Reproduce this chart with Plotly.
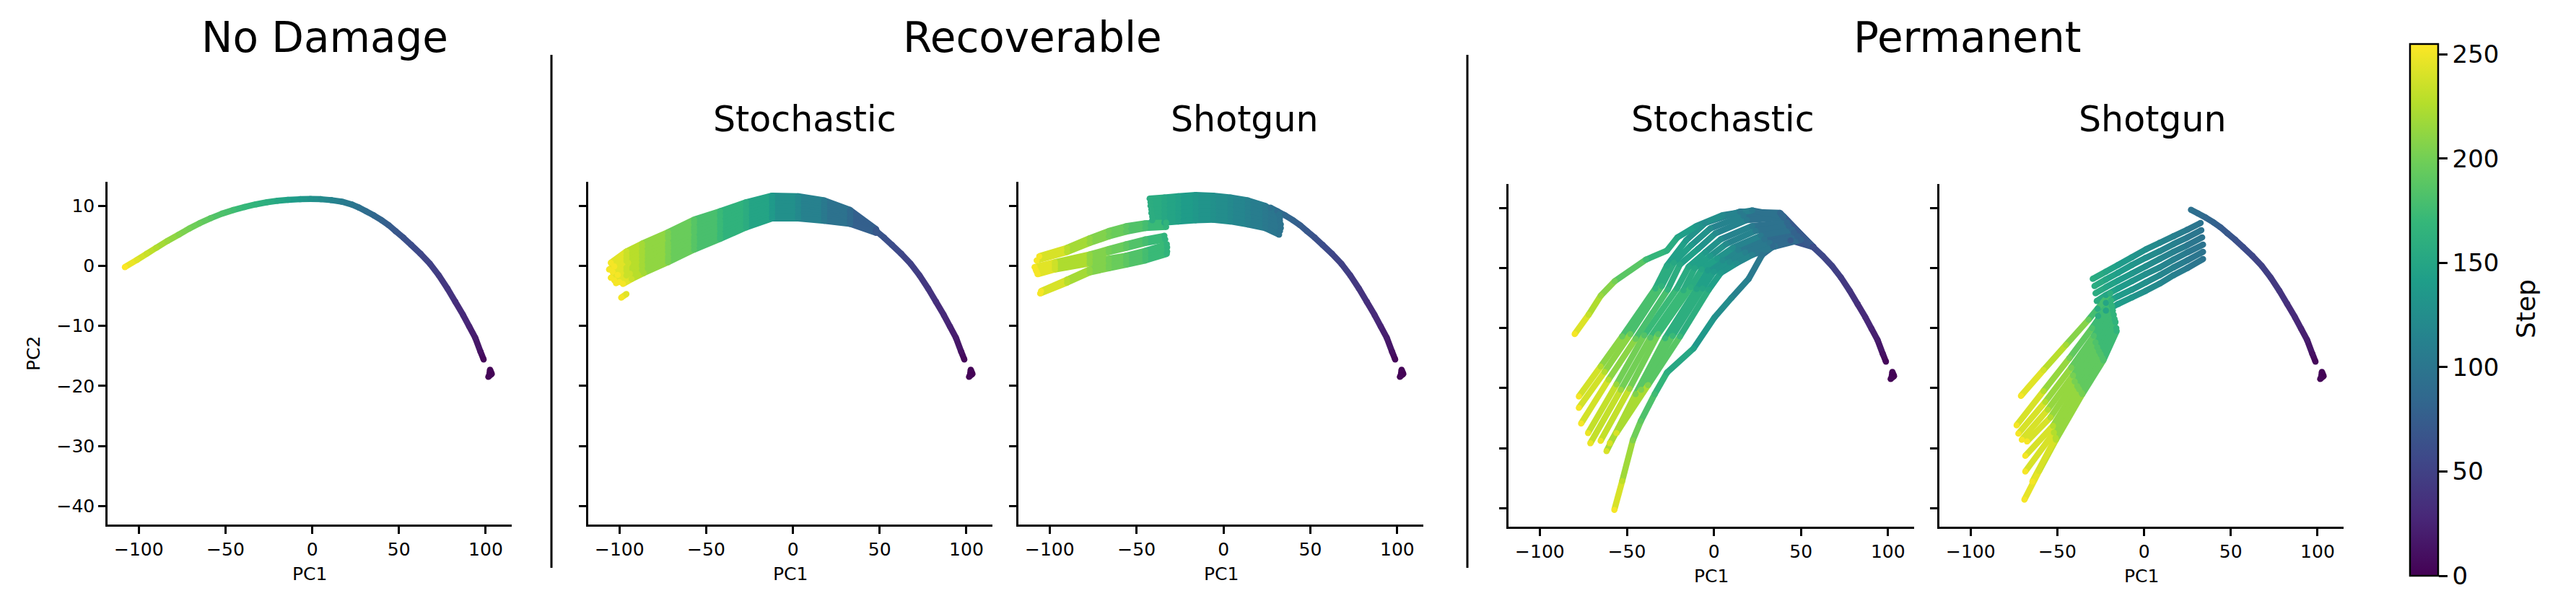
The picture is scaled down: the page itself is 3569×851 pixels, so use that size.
import plotly.graph_objects as go
from plotly.colors import sample_colorscale

W, H = 3569, 851

# ---------------- data ----------------
STEP_MAX = 255
CBAR_TICKS = [0, 50, 100, 150, 200, 250]
X_TICKS = [-100, -50, 0, 50, 100]
Y_TICKS = [-40, -30, -20, -10, 0, 10]
X_RANGE = [-118, 115]
Y_RANGE = [-43.1, 14]

GROUP_TITLES = ["No Damage", "Recoverable", "Permanent"]
SUB_TITLES = ["Stochastic", "Shotgun", "Stochastic", "Shotgun"]
X_LABEL = "PC1"
Y_LABEL = "PC2"
CBAR_LABEL = "Step"

# shared undamaged trajectory (start blob + main path)
START_STEP = [0, 1, 2, 3]
START_PC1 = [101.5, 103.5, 102.5, 102.0]
START_PC2 = [-18.5, -18.0, -17.3, -18.3]

BASE_STEP = [5, 12, 20, 25, 30, 35, 40, 45, 50, 55, 60, 65, 70, 75, 80, 85, 90, 95, 100, 107, 115, 122,
             130, 137, 145, 152, 160, 165, 170, 176, 182, 188, 195, 201, 207, 216, 225, 234, 243, 255]
BASE_PC1 = [98.8, 97.0, 94.0, 90.5, 87.0, 82.5, 78.0, 73.0, 68.0, 62.5, 57.0, 52.5, 48.0, 44.0, 40.0, 35.5,
            31.0, 27.0, 23.0, 17.0, 11.0, 5.0, -1.0, -7.0, -14.0, -20.0, -26.0, -32.5, -39.0, -45.5, -52.0,
            -58.5, -65.0, -71.0, -77.0, -83.5, -90.0, -95.5, -101.0, -108.0]
BASE_PC2 = [-15.6, -14.3, -12.0, -10.1, -8.2, -6.0, -3.8, -1.6, 0.3, 2.0, 3.5, 4.7, 5.8, 6.8, 7.6, 8.4,
            9.1, 9.7, 10.2, 10.7, 10.95, 11.1, 11.15, 11.1, 11.0, 10.85, 10.6, 10.25, 9.8, 9.3, 8.7,
            7.95, 7.1, 6.2, 5.2, 4.15, 3.0, 2.0, 1.0, -0.2]

# damage onset steps (shared path drawn up to here)
REC_STOCH_ONSET = 70
REC_SHOT_ONSET = 95
PERM_STOCH_ONSET = 60
PERM_SHOT_ONSET = 95

# Recoverable / Stochastic
REC_STOCH_STEP = [70, 87, 104, 120, 138, 158, 172, 187, 203, 220, 235, 252]
REC_STOCH_PC1 = [
    [48, 33, 18, 3, -12, -27, -42, -57, -72, -87, -96, -105],
    [48, 33, 18, 3, -12, -27, -42, -57, -72, -87, -96, -103],
    [48, 33, 18, 3, -12, -27, -42, -57, -72, -87, -96, -106],
    [48, 33, 18, 3, -12, -27, -42, -57, -72, -87, -96, -104],
    [48, 33, 18, 3, -12, -27, -42, -57, -72, -87, -95, -101],
    [48, 33, 18, 3, -12, -27, -42, -57, -72, -87, -96, -105],
    [48, 33, 18, 3, -12, -27, -42, -57, -72, -87, -96, -103],
    [48, 33, 18, 3, -12, -27, -42, -57, -72, -87, -94, -100],
    [48, 33, 18, 3, -12, -27, -42, -57, -72, -87, -96, -102],
    [48, 33, 18, 3, -12, -27, -42, -57, -72, -86, -93, -98],
]
REC_STOCH_PC2 = [
    [6.1, 9.3, 10.9, 11.6, 11.7, 10.6, 9.1, 7.7, 5.6, 3.7, 2.4, 0.5],
    [6.0, 9.0, 10.5, 11.3, 11.2, 10.2, 8.5, 7.2, 5.0, 3.2, 1.8, -0.1],
    [6.0, 8.8, 10.1, 10.9, 10.8, 9.6, 8.2, 6.5, 4.6, 2.5, 1.3, -0.6],
    [5.9, 8.5, 9.8, 10.3, 10.5, 9.3, 7.5, 6.1, 3.8, 2.1, 0.8, -1.0],
    [5.9, 8.3, 9.4, 10.0, 9.9, 8.8, 7.0, 5.6, 3.3, 1.5, 0.5, -1.5],
    [5.8, 8.0, 9.0, 9.4, 9.6, 8.2, 6.6, 4.8, 2.9, 0.9, -0.3, -2.0],
    [5.7, 7.8, 8.6, 9.2, 9.1, 7.7, 6.1, 4.3, 2.3, 0.3, -0.8, -2.4],
    [5.7, 7.5, 8.3, 8.6, 8.8, 7.2, 5.4, 3.9, 1.6, -0.1, -1.3, -2.7],
    [5.6, 7.2, 7.9, 8.3, 8.2, 6.9, 4.9, 3.3, 1.1, -0.7, -1.6, -2.9],
    [5.5, 7.0, 7.5, 7.9, 7.9, 6.4, 4.5, 2.7, 0.6, -1.2, -2.2, -3.0],
]
REC_STOCH_EXTRA_STEP = [244, 252]
REC_STOCH_EXTRA_PC1 = [-96.0, -99.0]
REC_STOCH_EXTRA_PC2 = [-4.7, -5.3]

# Recoverable / Shotgun (two jumps)
REC_SHOT_UP_STEP = [97, 104, 112, 120, 128, 136, 145, 152, 158]
REC_SHOT_UP_PC1 = [
    [32.0, 24, 14, 4, -6, -16, -26, -34, -42.5],
    [32.5, 24, 14, 4, -6, -16, -26, -34, -42.0],
    [32.5, 24, 14, 4, -6, -16, -26, -34, -42.0],
    [33.0, 24, 14, 4, -6, -16, -26, -34, -41.5],
    [33.0, 24, 14, 4, -6, -16, -26, -34, -41.5],
    [32.5, 24, 14, 4, -6, -16, -26, -34, -41.0],
    [32.0, 24, 14, 4, -6, -16, -26, -34, -41.0],
]
REC_SHOT_UP_PC2 = [
    [8.6, 10.0, 10.9, 11.4, 11.7, 11.8, 11.6, 11.4, 11.2],
    [8.0, 9.4, 10.2, 10.7, 11.0, 11.1, 10.9, 10.7, 10.6],
    [7.5, 8.8, 9.6, 10.1, 10.4, 10.4, 10.2, 10.0, 10.0],
    [6.9, 8.2, 8.9, 9.4, 9.7, 9.7, 9.5, 9.3, 9.4],
    [6.3, 7.5, 8.2, 8.7, 9.0, 9.0, 8.8, 8.6, 8.8],
    [5.8, 6.9, 7.6, 8.1, 8.4, 8.3, 8.1, 7.9, 8.2],
    [5.2, 6.3, 6.9, 7.4, 7.7, 7.6, 7.4, 7.2, 7.6],
]
REC_SHOT_LOW_STEP = [
    [165, 178, 190, 200, 212, 228, 252],
    [165, 178, 190, 200, 212, 228, 252],
    [165, 178, 190, 200, 212, 236, 252],
    [165, 178, 190, 200, 212, 236, 252],
    [165, 178, 190, 200, 212, 236, 252],
    [165, 178, 190, 200, 212, 236, 252],
    [165, 178, 190, 200, 212, 228, 252],
    [165, 178, 190, 200, 212, 228, 252],
]
REC_SHOT_LOW_PC1 = [
    [-33.0, -45, -56, -66, -77, -90, -106.0],
    [-33.0, -45, -56, -66, -77, -90, -107.5],
    [-34.0, -45, -56, -66, -77, -97, -108.7],
    [-33.5, -45, -56, -66, -77, -97, -108.0],
    [-32.4, -45, -56, -66, -77, -97, -107.0],
    [-32.6, -45, -56, -66, -77, -97, -107.5],
    [-32.4, -45, -56, -66, -77, -90, -105.0],
    [-32.6, -45, -56, -66, -77, -90, -105.5],
]
REC_SHOT_LOW_PC2 = [
    [7.2, 7.1, 6.6, 5.8, 4.6, 3.0, 1.6],
    [6.5, 6.3, 5.7, 4.9, 3.8, 2.3, 0.9],
    [5.0, 4.4, 3.6, 2.8, 1.9, 0.6, -0.2],
    [4.4, 3.8, 3.0, 2.3, 1.4, 0.2, -0.7],
    [3.1, 2.0, 1.2, 0.8, 0.4, -0.6, -1.4],
    [3.6, 2.5, 1.7, 1.2, 0.8, -0.2, -1.0],
    [2.4, 1.4, 0.7, 0.1, -0.6, -2.3, -4.2],
    [2.0, 0.9, 0.2, -0.4, -1.1, -2.8, -4.6],
]

# Permanent / Stochastic: main bundle
PERM_STOCH_STEP = [
    [60, 85, 105, 122, 138, 152, 165, 195, 225, 252],
    [60, 85, 105, 122, 138, 152, 165, 195, 225, 252],
    [60, 85, 105, 122, 138, 152, 165, 195, 225, 252],
    [60, 85, 105, 122, 138, 150, 160, 185, 215, 248],
    [60, 85, 105, 122, 138, 150, 160, 185, 215, 248],
    [60, 85, 105, 122, 138, 150, 160, 185, 215, 248],
    [60, 80, 98, 112, 125, 138, 150, 172, 205, 240],
    [60, 80, 98, 112, 125, 138, 150, 172, 205, 240],
    [60, 80, 98, 112, 125, 138, 150, 172, 205, 240],
]
PERM_STOCH_PC1 = [
    [57, 38, 15, -5, -16, -27.0, -33.6, -52.7, -65.1, -77.6],
    [57, 39, 17, -2, -13, -23.0, -30.0, -48.0, -62.8, -77.6],
    [57, 40, 19, 1, -9, -19.5, -26.5, -45.0, -60.5, -76.3],
    [57, 42, 22, 4, -5, -14.5, -21.2, -40.0, -56.0, -72.3],
    [57, 43, 24, 7, -2, -11.0, -17.5, -36.5, -53.5, -71.0],
    [57, 45, 27, 11, 2, -7.0, -13.2, -32.0, -48.5, -65.1],
    [57, 46, 29, 14, 5, -3.5, -10.0, -28.0, -45.0, -61.7],
    [57, 48, 32, 18, 9, 0.0, -6.5, -23.7, -41.8, -59.8],
    [57, 50, 35, 22, 13, 4.0, -3.0, -19.5, -37.8, -56.0],
]
PERM_STOCH_PC2 = [
    [3.5, 9.2, 9.4, 7.5, 4.6, 0.4, -3.4, -11.4, -16.4, -21.4],
    [3.5, 8.8, 8.7, 6.6, 3.8, 0.9, -3.0, -11.0, -17.3, -23.3],
    [3.5, 8.4, 8.0, 5.8, 3.2, 0.6, -3.6, -11.8, -18.6, -25.9],
    [3.5, 7.6, 7.0, 4.8, 2.6, 0.2, -3.4, -11.2, -19.4, -27.5],
    [3.5, 7.0, 6.2, 4.0, 2.0, 0.0, -3.7, -11.6, -20.3, -29.2],
    [3.5, 6.4, 5.4, 3.4, 1.6, -0.2, -3.2, -11.0, -20.1, -28.8],
    [3.5, 5.9, 4.8, 3.0, 1.3, -0.4, -3.5, -11.7, -21.0, -30.5],
    [3.5, 5.3, 4.2, 2.6, 1.0, -0.6, -3.4, -11.3, -20.3, -29.2],
    [3.5, 4.7, 3.6, 2.2, 0.8, -0.8, -3.6, -11.4, -19.5, -27.5],
]
PERM_STOCH_LEFT_STEP = [60, 85, 105, 120, 135, 150, 162, 175, 200, 215, 232, 252]
PERM_STOCH_LEFT_PC1 = [57, 40, 22, 5, -10, -21, -27, -39, -57, -65, -72, -80]
PERM_STOCH_LEFT_PC2 = [3.5, 8.6, 9.6, 8.8, 7.0, 5.1, 2.9, 1.4, -2.2, -4.6, -7.8, -11.0]
PERM_STOCH_RIGHT_STEP = [60, 75, 88, 98, 108, 118, 128, 145, 160, 175, 190, 205, 230, 252]
PERM_STOCH_RIGHT_PC1 = [57, 44, 34, 27.7, 20, 10, 0.4, -11.7, -26.9, -34, -42, -46.6, -52.7, -57.2]
PERM_STOCH_RIGHT_PC2 = [3.5, 4.6, 3.6, 2.2, -1.8, -5.0, -8.2, -13.4, -17.4, -21.0, -25.5, -28.7, -35.5, -40.3]

# Permanent / Shotgun (two jumps)
PERM_SHOT_UP_STEP = [97, 104, 111, 118, 126, 134, 142, 150, 157]
PERM_SHOT_UP_PC1 = [
    [32.6, 25, 17, 9, 1, -7, -15, -22, -29.6],
    [33.0, 25, 17, 9, 1, -7, -15, -22, -28.6],
    [33.5, 25, 17, 9, 1, -7, -15, -22, -28.0],
    [34.0, 25, 17, 9, 1, -7, -15, -22, -27.3],
    [34.0, 25, 17, 9, 1, -7, -15, -22, -26.8],
    [34.0, 25, 17, 9, 1, -7, -15, -22, -26.5],
]
PERM_SHOT_UP_PC2 = [
    [7.5, 6.4, 5.3, 4.2, 3.1, 1.8, 0.5, -0.6, -1.8],
    [6.3, 5.1, 4.0, 2.8, 1.7, 0.5, -0.8, -1.9, -3.0],
    [5.1, 3.8, 2.7, 1.5, 0.3, -0.9, -2.1, -3.2, -4.2],
    [3.9, 2.6, 1.4, 0.1, -1.0, -2.2, -3.4, -4.5, -5.5],
    [2.7, 1.3, 0.1, -1.2, -2.4, -3.6, -4.7, -5.8, -6.8],
    [1.5, 0.0, -1.2, -2.6, -3.8, -4.9, -6.0, -7.1, -8.0],
]
PERM_SHOT_LOW_STEP = [
    [160, 195, 220, 238, 252],
    [165, 183, 202, 226, 252],
    [165, 183, 202, 226, 252],
    [165, 183, 202, 226, 252],
    [165, 183, 202, 226, 252],
    [165, 183, 202, 226, 252],
    [165, 183, 202, 226, 252],
    [165, 183, 202, 226, 252],
    [165, 183, 202, 226, 240, 252],
]
PERM_SHOT_LOW_PC1 = [
    [-19.5, -32, -45, -58, -71.0],
    [-19.0, -30, -43, -58, -73.5],
    [-18.5, -29, -42, -57, -72.5],
    [-18.0, -28, -41, -55.5, -70.5],
    [-17.5, -27, -40, -54, -67.5],
    [-17.0, -26, -38.5, -52.5, -68.5],
    [-16.5, -25, -37.5, -52, -68.5],
    [-16.0, -24, -36, -51, -64.4],
    [-15.8, -23.5, -35.6, -50.8, -60.5, -69.0],
]
PERM_SHOT_LOW_PC2 = [
    [-4.2, -8.6, -12.8, -17.0, -21.3],
    [-5.4, -10.0, -15.0, -20.5, -26.2],
    [-6.3, -11.3, -16.6, -22.3, -27.6],
    [-7.1, -12.4, -17.9, -23.6, -28.6],
    [-7.8, -13.2, -18.9, -24.9, -28.9],
    [-8.5, -13.9, -19.7, -26.3, -31.3],
    [-9.0, -14.4, -20.2, -27.4, -33.9],
    [-10.0, -15.0, -20.8, -28.3, -35.6],
    [-10.5, -15.4, -21.0, -28.6, -33.8, -38.6],
]

# ---------------- layout geometry (pixels) ----------------
AX_X = {1: (149, 709), 2: (815, 1375), 3: (1411, 1972), 4: (2090, 2652), 5: (2687, 3247)}
AX_Y = {1: (252, 727), 2: (252, 727), 3: (252, 727), 4: (255, 730), 5: (255, 730)}
LINE_W = 8.5
FONT = "DejaVu Sans"


def px_x(p):
    return p / W


def px_y(p):
    return 1 - p / H


def base_until(cut):
    idx = [i for i, s in enumerate(BASE_STEP) if s <= cut]
    return ([BASE_STEP[i] for i in idx], [BASE_PC1[i] for i in idx], [BASE_PC2[i] for i in idx])


def vcolor(step):
    return sample_colorscale("Viridis", [min(max(step / STEP_MAX, 0.0), 1.0)])[0]


fig = go.Figure()


def draw_panel(k, polylines):
    xa = "x" if k == 1 else f"x{k}"
    ya = "y" if k == 1 else f"y{k}"
    bins = {}
    for steps, xs, ys in polylines:
        for i in range(len(steps) - 1):
            mid = 0.5 * (steps[i] + steps[i + 1])
            key = int(round(mid / 2.0))
            b = bins.setdefault(key, ([], []))
            b[0].extend([xs[i], xs[i + 1], None])
            b[1].extend([ys[i], ys[i + 1], None])
    for key in sorted(bins):
        bx, by = bins[key]
        fig.add_trace(go.Scatter(x=bx, y=by, mode="lines",
                                 line=dict(color=vcolor(key * 2.0), width=LINE_W),
                                 hoverinfo="skip", showlegend=False, xaxis=xa, yaxis=ya))
    mx, my, mc = [], [], []
    for steps, xs, ys in polylines:
        mx += list(xs)
        my += list(ys)
        mc += list(steps)
    fig.add_trace(go.Scatter(x=mx, y=my, mode="markers",
                             marker=dict(color=mc, colorscale="Viridis", cmin=0, cmax=STEP_MAX,
                                         size=LINE_W, line=dict(width=0)),
                             hoverinfo="skip", showlegend=False, xaxis=xa, yaxis=ya))


start = (START_STEP, START_PC1, START_PC2)

# Panel 1: no damage
draw_panel(1, [start, (BASE_STEP, BASE_PC1, BASE_PC2)])

# Panel 2: recoverable stochastic
p2 = [start, base_until(REC_STOCH_ONSET)]
for xs, ys in zip(REC_STOCH_PC1, REC_STOCH_PC2):
    p2.append((REC_STOCH_STEP, xs, ys))
p2.append((REC_STOCH_EXTRA_STEP, REC_STOCH_EXTRA_PC1, REC_STOCH_EXTRA_PC2))
draw_panel(2, p2)

# Panel 3: recoverable shotgun
p3 = [start, base_until(REC_SHOT_ONSET)]
for xs, ys in zip(REC_SHOT_UP_PC1, REC_SHOT_UP_PC2):
    p3.append((REC_SHOT_UP_STEP, xs, ys))
for st, xs, ys in zip(REC_SHOT_LOW_STEP, REC_SHOT_LOW_PC1, REC_SHOT_LOW_PC2):
    p3.append((st, xs, ys))
draw_panel(3, p3)

# Panel 4: permanent stochastic
p4 = [start, base_until(PERM_STOCH_ONSET)]
for st, xs, ys in zip(PERM_STOCH_STEP, PERM_STOCH_PC1, PERM_STOCH_PC2):
    p4.append((st, xs, ys))
p4.append((PERM_STOCH_LEFT_STEP, PERM_STOCH_LEFT_PC1, PERM_STOCH_LEFT_PC2))
p4.append((PERM_STOCH_RIGHT_STEP, PERM_STOCH_RIGHT_PC1, PERM_STOCH_RIGHT_PC2))
draw_panel(4, p4)

# Panel 5: permanent shotgun
p5 = [start, base_until(PERM_SHOT_ONSET)]
for xs, ys in zip(PERM_SHOT_UP_PC1, PERM_SHOT_UP_PC2):
    p5.append((PERM_SHOT_UP_STEP, xs, ys))
for st, xs, ys in zip(PERM_SHOT_LOW_STEP, PERM_SHOT_LOW_PC1, PERM_SHOT_LOW_PC2):
    p5.append((st, xs, ys))
draw_panel(5, p5)

# colorbar carrier (point lies outside the plotted range)
fig.add_trace(go.Scatter(
    x=[0], y=[1000], mode="markers", hoverinfo="skip", showlegend=False,
    marker=dict(color=[0], colorscale="Viridis", cmin=0, cmax=STEP_MAX, showscale=True,
                colorbar=dict(
                    x=px_x(3339), xanchor="left", xpad=0, ypad=0,
                    y=px_y(429.5), yanchor="middle",
                    len=737, lenmode="pixels", thickness=39, thicknessmode="pixels",
                    outlinecolor="black", outlinewidth=2.5,
                    tickvals=CBAR_TICKS, ticks="outside", ticklen=12, tickwidth=2.5,
                    tickcolor="black", tickfont=dict(family=FONT, size=34, color="black"),
                ))))

axis_common = dict(showgrid=False, zeroline=False, showline=True, linecolor="black", linewidth=2.5,
                   ticks="outside", ticklen=10, tickwidth=2.5, tickcolor="black", automargin=False,
                   tickfont=dict(family=FONT, size=25, color="black"), fixedrange=True)

layout = dict(width=W, height=H, margin=dict(l=0, r=0, t=0, b=0, pad=0, autoexpand=False),
              plot_bgcolor="white", paper_bgcolor="white", showlegend=False)
for k in range(1, 6):
    xn = "xaxis" if k == 1 else f"xaxis{k}"
    yn = "yaxis" if k == 1 else f"yaxis{k}"
    ya = "y" if k == 1 else f"y{k}"
    xa = "x" if k == 1 else f"x{k}"
    layout[xn] = dict(axis_common, domain=[px_x(AX_X[k][0]), px_x(AX_X[k][1])], range=X_RANGE,
                      tickvals=X_TICKS, anchor=ya)
    layout[yn] = dict(axis_common, domain=[px_y(AX_Y[k][1]), px_y(AX_Y[k][0])], range=Y_RANGE,
                      tickvals=Y_TICKS, anchor=xa, showticklabels=(k == 1))
fig.update_layout(**layout)

ann = []
for txt, cx in zip(GROUP_TITLES, [450, 1430, 2725]):
    ann.append(dict(text=txt, x=px_x(cx), y=px_y(52), xref="paper", yref="paper", showarrow=False,
                    xanchor="center", yanchor="middle", font=dict(family=FONT, size=58, color="black")))
for txt, cx in zip(SUB_TITLES, [1115, 1724, 2387, 2982]):
    ann.append(dict(text=txt, x=px_x(cx), y=px_y(165), xref="paper", yref="paper", showarrow=False,
                    xanchor="center", yanchor="middle", font=dict(family=FONT, size=49, color="black")))
for k in range(1, 6):
    cx = 0.5 * (AX_X[k][0] + AX_X[k][1])
    cy = AX_Y[k][1] + 68
    ann.append(dict(text=X_LABEL, x=px_x(cx), y=px_y(cy), xref="paper", yref="paper", showarrow=False,
                    xanchor="center", yanchor="middle", font=dict(family=FONT, size=25, color="black")))
ann.append(dict(text=Y_LABEL, x=px_x(46), y=px_y(490), xref="paper", yref="paper", showarrow=False,
                textangle=-90, xanchor="center", yanchor="middle",
                font=dict(family=FONT, size=25, color="black")))
ann.append(dict(text=CBAR_LABEL, x=px_x(3499), y=px_y(428), xref="paper", yref="paper", showarrow=False,
                textangle=-90, xanchor="center", yanchor="middle",
                font=dict(family=FONT, size=36, color="black")))
fig.update_layout(annotations=ann)

shapes = []
for sx in [764, 2033]:
    shapes.append(dict(type="line", xref="paper", yref="paper", x0=px_x(sx), x1=px_x(sx),
                       y0=px_y(787), y1=px_y(76), line=dict(color="black", width=3)))
fig.update_layout(shapes=shapes)

fig.write_html("out.html", config={"displayModeBar": False},
               post_script="document.body.style.margin='0px';document.body.style.overflow='hidden';")
